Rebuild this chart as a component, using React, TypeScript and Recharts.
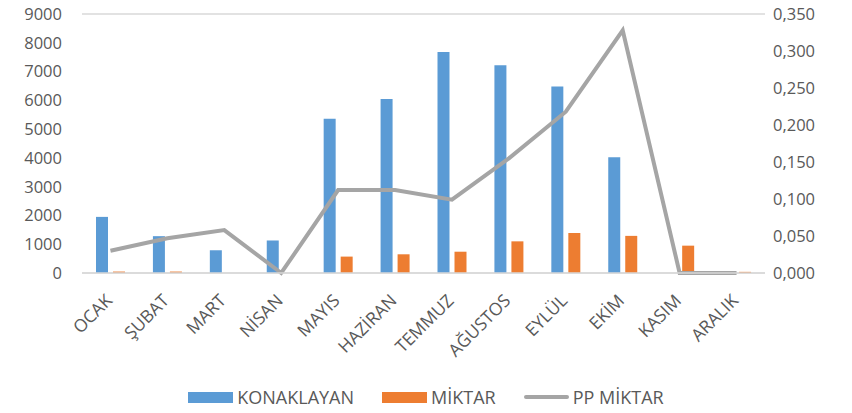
import { ComposedChart, Bar, Line, XAxis, YAxis, CartesianGrid, Legend } from 'recharts';

const months = ['OCAK', 'ŞUBAT', 'MART', 'NİSAN', 'MAYIS', 'HAZİRAN', 'TEMMUZ', 'AĞUSTOS', 'EYLÜL', 'EKİM', 'KASIM', 'ARALIK'];
const konaklayan = [1950, 1280, 790, 1130, 5360, 6050, 7680, 7220, 6480, 4020, 0, 0];
const miktar = [50, 50, 0, 0, 570, 650, 740, 1100, 1390, 1290, 950, 40];
const ppMiktar = [0.03, 0.047, 0.058, 0, 0.112, 0.112, 0.099, 0.155, 0.218, 0.328, 0, 0];

const leftTicks = [0, 1000, 2000, 3000, 4000, 5000, 6000, 7000, 8000, 9000];
const rightTicks = [0, 0.05, 0.1, 0.15, 0.2, 0.25, 0.3, 0.35];

const data = months.map((m, i) => ({
  month: m,
  konaklayan: konaklayan[i],
  miktar: miktar[i],
  pp: ppMiktar[i],
}));

const FONT = '"Open Sans", sans-serif';
const TEXT = '#595959';

const legendItems = [
  { label: 'KONAKLAYAN', color: '#5B9BD5', line: false },
  { label: 'MİKTAR', color: '#ED7D31', line: false },
  { label: 'PP MİKTAR', color: '#A5A5A5', line: true },
];

const CustomLegend = () => (
  <div
    style={{
      display: 'flex',
      justifyContent: 'center',
      alignItems: 'center',
      gap: 28,
      paddingTop: 22,
      fontFamily: FONT,
      fontSize: 18,
      color: TEXT,
    }}
  >
    {legendItems.map((it) => (
      <div key={it.label} style={{ display: 'flex', alignItems: 'center' }}>
        <span
          style={{
            display: 'inline-block',
            width: 45,
            height: it.line ? 4 : 11,
            borderRadius: it.line ? 2 : 0,
            background: it.color,
            marginRight: 4,
          }}
        />
        <span>{it.label}</span>
      </div>
    ))}
  </div>
);

const App = () => {
  return (
    <div style={{ position: 'absolute', left: 0, top: 0, width: 852, height: 413, background: '#fff' }}>
      <ComposedChart
        width={852}
        height={413}
        data={data}
        margin={{ top: 14, right: 0, left: 0, bottom: 0 }}
        barSize={12}
        barGap={5}
      >
        <CartesianGrid vertical={false} stroke="#D9D9D9" strokeWidth={1.5} />
        <XAxis
          dataKey="month"
          axisLine={{ stroke: '#D9D9D9', strokeWidth: 1.5 }}
          tickLine={false}
          interval={0}
          height={90}
          angle={-45}
          textAnchor="end"
          tick={{ fontSize: 17.5, fill: TEXT, fontFamily: FONT }}
          dx={-6}
          dy={12}
        />
        <YAxis
          yAxisId="left"
          width={82}
          domain={[0, 9000]}
          ticks={leftTicks}
          axisLine={false}
          tickLine={false}
          tickMargin={14}
          tick={{ fontSize: 16.5, fill: TEXT, fontFamily: FONT }}
        />
        <YAxis
          yAxisId="right"
          orientation="right"
          width={87}
          domain={[0, 0.35]}
          ticks={rightTicks}
          axisLine={false}
          tickLine={false}
          tickMargin={2}
          tickFormatter={(v: number) => v.toFixed(3).replace('.', ',')}
          tick={{ fontSize: 16.5, fill: TEXT, fontFamily: FONT }}
        />
        <Legend verticalAlign="bottom" height={50} content={<CustomLegend />} />
        <Bar yAxisId="left" dataKey="konaklayan" name="KONAKLAYAN" fill="#5B9BD5" isAnimationActive={false} />
        <Bar yAxisId="left" dataKey="miktar" name="MİKTAR" fill="#ED7D31" isAnimationActive={false} />
        <Line
          yAxisId="right"
          type="linear"
          dataKey="pp"
          name="PP MİKTAR"
          stroke="#A5A5A5"
          strokeWidth={4}
          dot={false}
          activeDot={false}
          isAnimationActive={false}
        />
      </ComposedChart>
    </div>
  );
};

export default App;
